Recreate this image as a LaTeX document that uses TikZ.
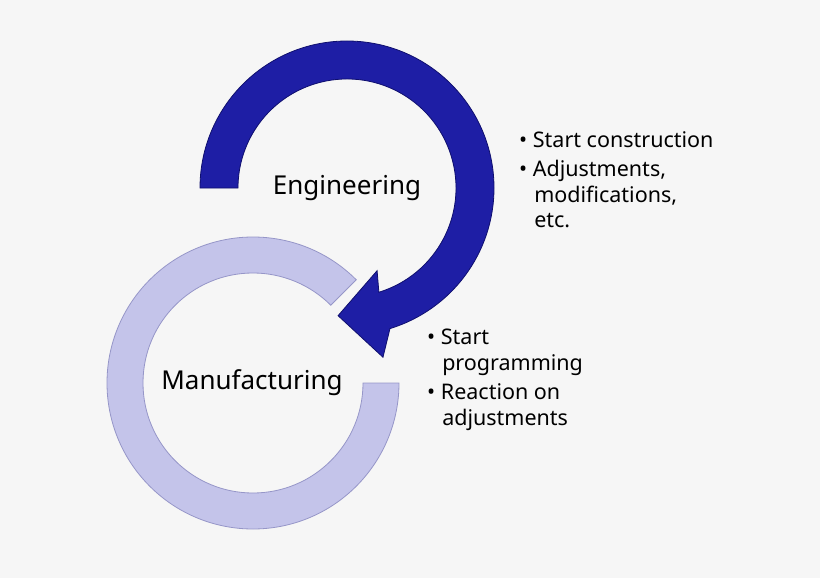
\documentclass[tikz,border=0pt]{standalone}
\usepackage{fontspec}
\setmainfont{Noto Sans}
\definecolor{bg}{RGB}{246,246,246}
\definecolor{dkb}{RGB}{30,30,165}
\definecolor{dkbl}{RGB}{15,15,110}
\definecolor{lt}{RGB}{196,196,234}
\definecolor{ltl}{RGB}{150,150,200}
\begin{document}
\begin{tikzpicture}[x=1pt,y=-1pt,
  lbl/.style={font=\fontsize{26}{30}\selectfont,inner sep=0pt},
  bul/.style={font=\fontsize{21.5}{25.5}\selectfont,align=left,anchor=north west,inner sep=0pt}]
\fill[bg] (0,0) rectangle (820,578);
\useasboundingbox (0,0) rectangle (820,578);
% light ring (Manufacturing)
\coordinate (M) at (253,383);
\fill[lt,draw=ltl,line width=0.8pt,y=1pt]
  ([shift={(M)}]45:146) arc[start angle=45,end angle=360,radius=146]
  -- ([shift={(M)}]0:110) arc[start angle=360,end angle=45,radius=110] -- cycle;
% dark arrow (Engineering)
\coordinate (E) at (347,188);
\fill[dkb,draw=dkbl,line width=0.8pt,y=1pt]
  ([shift={(E)}]180:147) arc[start angle=180,end angle=-73,radius=147]
  -- ([shift={(E)}]-78:173) -- ([shift={(E)}]-94:128) -- ([shift={(E)}]-70:88)
  -- ([shift={(E)}]-73:109) arc[start angle=-73,end angle=180,radius=109] -- cycle;
\node[lbl] (eng) at (347,188) {Engineering};
\node[lbl] (man) at (252,383) {Manufacturing};
\node[bul] (b1) at (519,131) {• Start construction\\[4pt]• Adjustments,\\\hspace{0.7em}modifications,\\\hspace{0.7em}etc.};
\node[bul] (b2) at (427,329) {• Start\\\hspace{0.7em}programming\\[4pt]• Reaction on\\\hspace{0.7em}adjustments};
\end{tikzpicture}
\end{document}
